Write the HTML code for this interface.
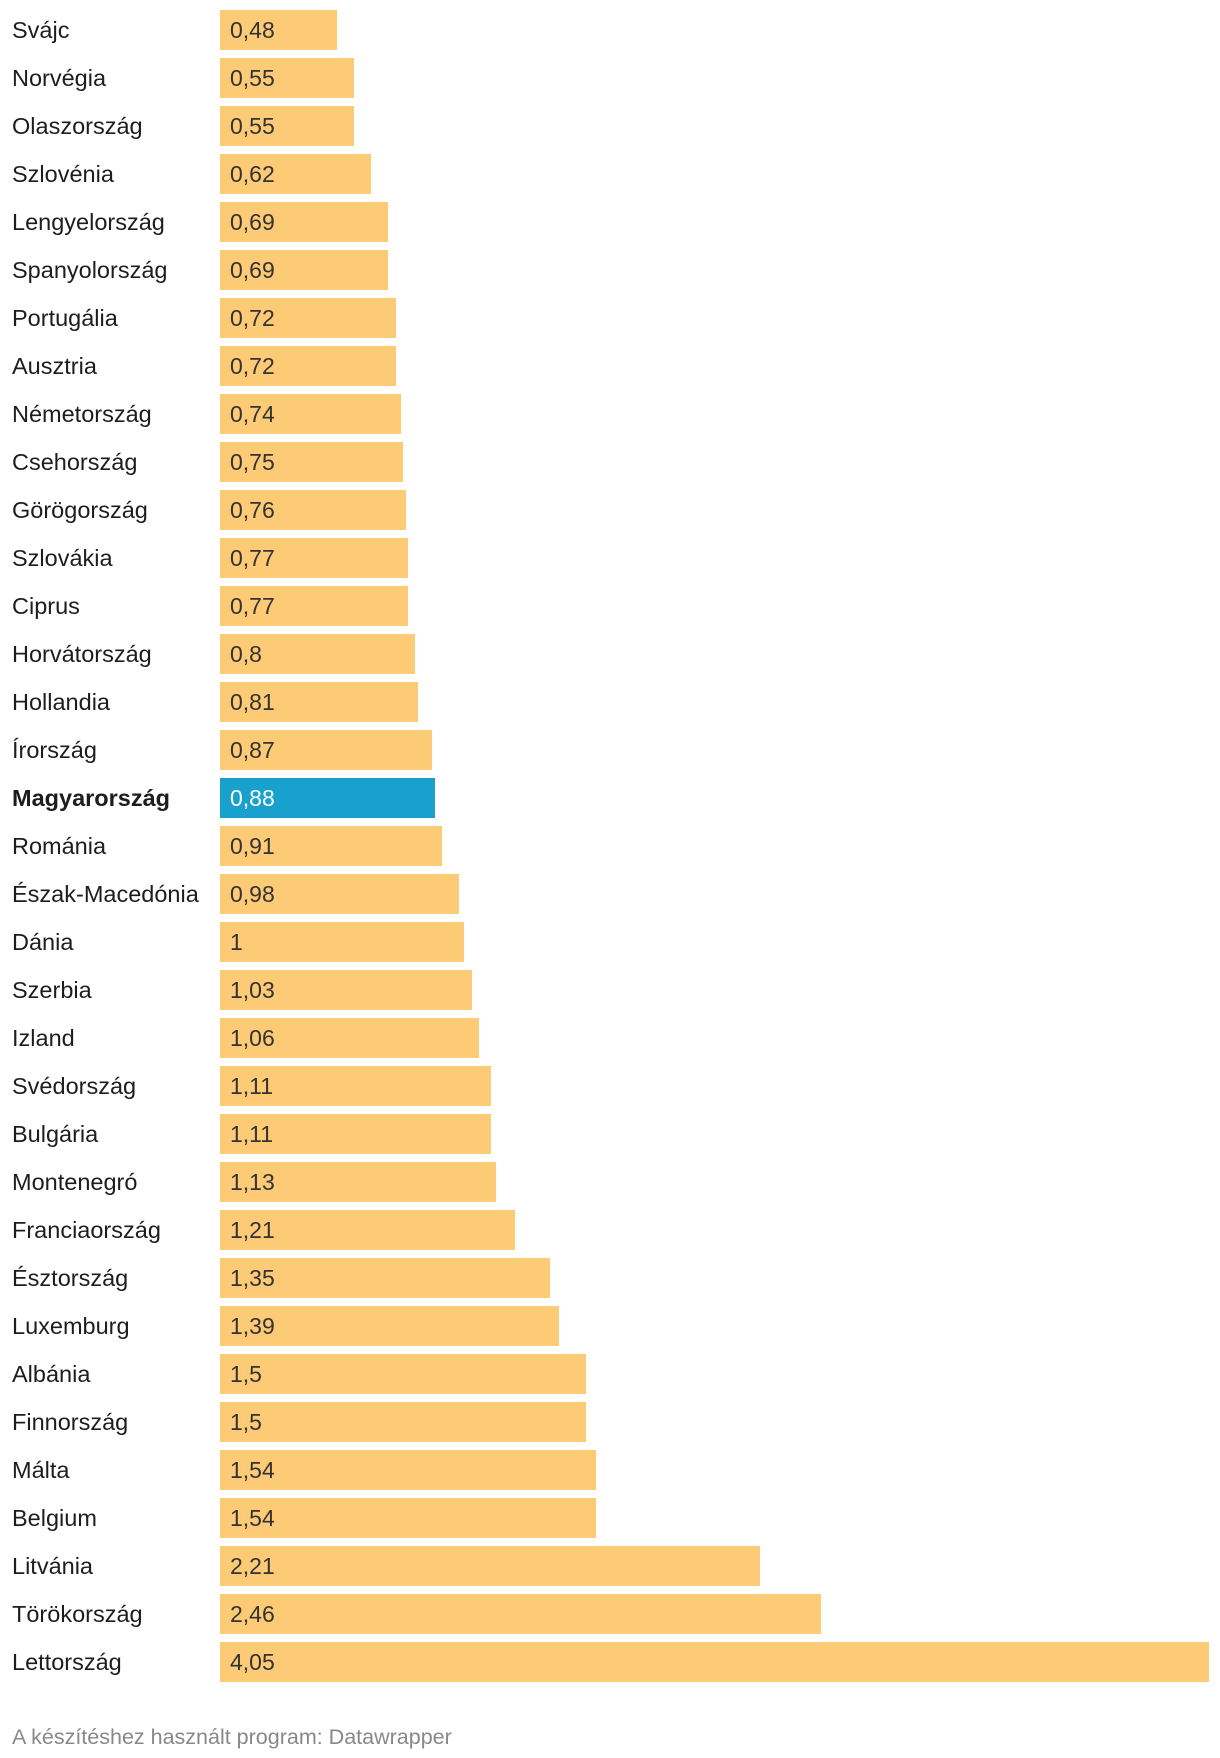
<!DOCTYPE html>
<html><head><meta charset="utf-8"><style>
body{margin:0;background:#fff;width:1220px;height:1758px;overflow:hidden;font-family:"Liberation Sans","DejaVu Sans",sans-serif;}
.row{position:absolute;left:0;height:40px;width:1220px}
.lbl{position:absolute;left:12px;top:0;line-height:40px;font-size:23.5px;color:#1d1d1d}
.bar{position:absolute;left:220px;top:0;height:40px;background:#fdca76}
.val{position:absolute;left:230px;top:0;line-height:40px;font-size:23px;color:#333}
#foot{position:absolute;left:12px;top:1725px;font-size:21.5px;color:#888}
</style></head><body>
<div id="chart"></div>
<div id="foot">A készítéshez használt program: Datawrapper</div>
<script>
const categories=["Svájc","Norvégia","Olaszország","Szlovénia","Lengyelország","Spanyolország","Portugália","Ausztria","Németország","Csehország","Görögország","Szlovákia","Ciprus","Horvátország","Hollandia","Írország","Magyarország","Románia","Észak-Macedónia","Dánia","Szerbia","Izland","Svédország","Bulgária","Montenegró","Franciaország","Észtország","Luxemburg","Albánia","Finnország","Málta","Belgium","Litvánia","Törökország","Lettország"];
const values=[0.48,0.55,0.55,0.62,0.69,0.69,0.72,0.72,0.74,0.75,0.76,0.77,0.77,0.8,0.81,0.87,0.88,0.91,0.98,1,1.03,1.06,1.11,1.11,1.13,1.21,1.35,1.39,1.5,1.5,1.54,1.54,2.21,2.46,4.05];
const highlight="Magyarország";
const maxV=Math.max(...values);
const x=v=>v/maxV*989;
const y=i=>10+i*48.0;
const c=document.getElementById('chart');
categories.forEach((cat,i)=>{
  const r=document.createElement('div');r.className='row';r.style.top=y(i)+'px';
  
  
  const l=document.createElement('div');l.className='lbl';l.textContent=cat;
  
  
  const b=document.createElement('div');b.className='bar';b.style.width=x(values[i])+'px';
  
  
  const v=document.createElement('div');v.className='val';v.textContent=String(values[i]).replace('.',',');
  
  
  if(cat===highlight){b.style.background='#18a1cd';v.style.color='#fff';l.style.fontWeight='bold';}
  r.appendChild(l);r.appendChild(b);r.appendChild(v);c.appendChild(r);
});
</script>
</body></html>
